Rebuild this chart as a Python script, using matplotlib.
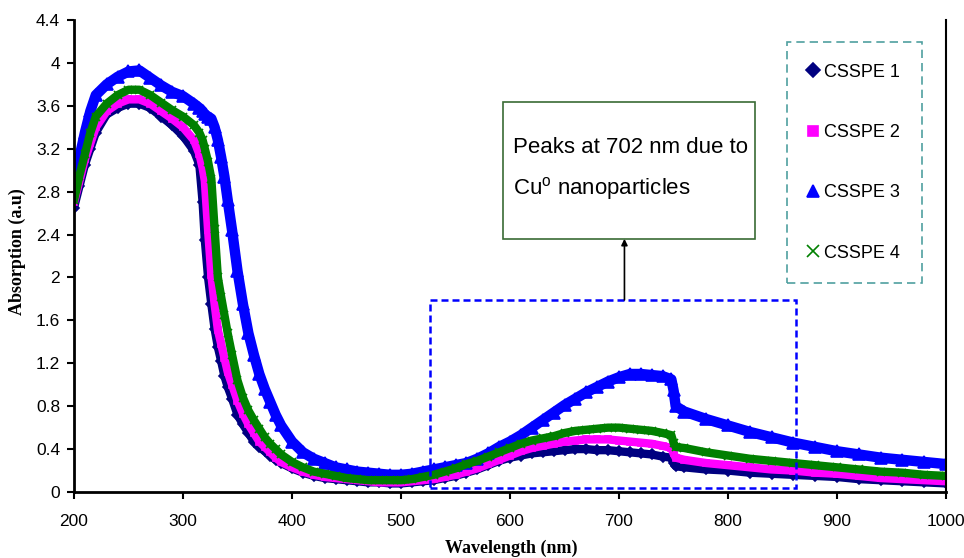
import numpy as np
import matplotlib
matplotlib.use("Agg")
import matplotlib.pyplot as plt
from matplotlib.lines import Line2D
from matplotlib.patches import Rectangle

plt.rcParams['font.family'] = ['Liberation Sans', 'DejaVu Sans']
plt.rcParams['mathtext.fontset'] = 'custom'
plt.rcParams['mathtext.rm'] = 'Liberation Sans'

# wavelength grid (nm)
wavelength = [200, 205, 210, 215, 220, 230, 240, 250, 260, 270, 280, 290, 300, 310, 315, 318,
              320, 323, 326, 329, 332, 335, 338, 341, 345, 350, 355, 360, 365, 370, 375, 380,
              385, 390, 400, 410, 420, 430, 440, 450, 460, 470, 480, 490, 500, 510, 520, 530,
              540, 550, 560, 570, 580, 590, 600, 610, 620, 630, 640, 650, 660, 670, 680, 690,
              700, 710, 720, 730, 740, 748, 750, 752, 760, 780, 800, 820, 840, 860, 880, 900,
              920, 940, 960, 980, 1000]

csspe1 = [2.65, 2.85, 3.05, 3.2, 3.35, 3.52, 3.58, 3.62, 3.62, 3.58, 3.5, 3.42, 3.32, 3.18, 3.05, 2.7,
          2.35, 2.0, 1.75, 1.52, 1.35, 1.22, 1.08, 0.98, 0.87, 0.72, 0.63, 0.55, 0.47, 0.42, 0.38, 0.34,
          0.3, 0.27, 0.22, 0.18, 0.15, 0.13, 0.12, 0.11, 0.1, 0.09, 0.09, 0.08, 0.08, 0.09, 0.1, 0.11,
          0.13, 0.15, 0.18, 0.21, 0.25, 0.29, 0.32, 0.34, 0.36, 0.37, 0.38, 0.39, 0.4, 0.4, 0.39, 0.39,
          0.38, 0.37, 0.36, 0.35, 0.33, 0.32, 0.27, 0.24, 0.23, 0.21, 0.2, 0.18, 0.17, 0.16, 0.15, 0.14,
          0.12, 0.11, 0.1, 0.09, 0.08]

csspe2 = [2.7, 2.9, 3.1, 3.25, 3.4, 3.55, 3.62, 3.66, 3.66, 3.62, 3.55, 3.48, 3.4, 3.28, 3.15, 3.02,
          2.9, 2.44, 2.02, 1.75, 1.51, 1.38, 1.25, 1.12, 1.0, 0.85, 0.73, 0.63, 0.55, 0.47, 0.42, 0.37,
          0.32, 0.28, 0.23, 0.19, 0.16, 0.14, 0.13, 0.12, 0.11, 0.1, 0.09, 0.09, 0.09, 0.1, 0.11, 0.12,
          0.14, 0.16, 0.19, 0.22, 0.26, 0.3, 0.34, 0.38, 0.41, 0.43, 0.45, 0.47, 0.48, 0.49, 0.49, 0.49,
          0.48, 0.47, 0.46, 0.45, 0.43, 0.41, 0.36, 0.32, 0.3, 0.27, 0.25, 0.23, 0.21, 0.2, 0.18, 0.17,
          0.15, 0.13, 0.12, 0.11, 0.1]

csspe3 = [2.88, 3.12, 3.35, 3.55, 3.7, 3.8, 3.87, 3.92, 3.93, 3.86, 3.79, 3.73, 3.69, 3.62, 3.58, 3.55,
          3.52, 3.5, 3.48, 3.4, 3.28, 3.12, 2.94, 2.72, 2.44, 2.06, 1.75, 1.48, 1.28, 1.1, 0.96, 0.84,
          0.72, 0.62, 0.47, 0.37, 0.31, 0.27, 0.23, 0.21, 0.19, 0.18, 0.17, 0.16, 0.16, 0.17, 0.19, 0.21,
          0.23, 0.25, 0.27, 0.31, 0.36, 0.42, 0.47, 0.53, 0.6, 0.67, 0.74, 0.81, 0.87, 0.93, 0.98, 1.03,
          1.07, 1.1, 1.1, 1.09, 1.08, 1.05, 0.95, 0.8, 0.75, 0.68, 0.62, 0.56, 0.51, 0.46, 0.42, 0.38,
          0.35, 0.32, 0.3, 0.28, 0.26]

csspe4 = [2.72, 2.95, 3.15, 3.35, 3.5, 3.62, 3.7, 3.75, 3.75, 3.7, 3.63, 3.56, 3.5, 3.42, 3.35, 3.28,
          3.2, 3.08, 2.92, 2.45, 2.0, 1.82, 1.65, 1.48, 1.28, 1.04, 0.88, 0.76, 0.67, 0.59, 0.51, 0.45,
          0.4, 0.35, 0.28, 0.23, 0.19, 0.17, 0.15, 0.13, 0.12, 0.11, 0.11, 0.11, 0.11, 0.12, 0.14, 0.16,
          0.19, 0.22, 0.26, 0.29, 0.33, 0.37, 0.41, 0.45, 0.48, 0.5, 0.52, 0.55, 0.57, 0.58, 0.59, 0.6,
          0.6, 0.59, 0.58, 0.57, 0.55, 0.53, 0.46, 0.42, 0.41, 0.37, 0.34, 0.31, 0.29, 0.27, 0.25, 0.23,
          0.21, 0.19, 0.18, 0.16, 0.15]

labels = ['CSSPE 1', 'CSSPE 2', 'CSSPE 3', 'CSSPE 4']
x_ticks = [200, 300, 400, 500, 600, 700, 800, 900, 1000]
y_ticks = [0, 0.4, 0.8, 1.2, 1.6, 2, 2.4, 2.8, 3.2, 3.6, 4, 4.4]

fig = plt.figure(figsize=(9.64, 5.58), dpi=100)
ax = fig.add_axes([74 / 964, 1 - 492 / 558, 872 / 964, 472 / 558])

styles = [
    dict(color='#000080', marker='D', ms=5, lw=6),
    dict(color='#ff00ff', marker='s', ms=5, lw=6),
    dict(color='#0000ff', marker='^', ms=8, lw=7.5),
    dict(color='#008000', marker='x', ms=6, lw=6),
]
for ys, st, lab in zip([csspe1, csspe2, csspe3, csspe4], styles, labels):
    ax.plot(wavelength, ys, color=st['color'], lw=st['lw'], solid_joinstyle='round',
            solid_capstyle='round', zorder=2)
    ax.plot(wavelength, ys, ls='none', marker=st['marker'], ms=st['ms'], color=st['color'],
            mew=1.2, zorder=2)

ax.set_xlim(200, 1000)
ax.set_ylim(0, 4.4)
ax.set_xticks(x_ticks)
ax.set_yticks(y_ticks)
ax.set_yticklabels([f'{v:g}' for v in y_ticks])
ax.tick_params(direction='out', length=5, width=1.5, labelsize=12.5)
ax.tick_params(axis='x', pad=11)
ax.tick_params(axis='y', pad=5)
ax.spines['top'].set_visible(False)
ax.spines['left'].set_linewidth(2)
ax.spines['bottom'].set_linewidth(2)
ax.spines['right'].set_linewidth(1.5)

ax.set_xlabel('Wavelength (nm)', fontsize=13, fontweight='bold', family='Liberation Serif')
ax.set_ylabel('Absorption (a.u)', fontsize=13, fontweight='bold', family='Liberation Serif')
ax.xaxis.set_label_coords(0.501, -0.102)
ax.yaxis.set_label_coords(-0.055, 0.51)

# dashed region around the second band
ax.add_patch(Rectangle((527, 0.04), 335, 1.75, fill=False, ec='#0000ff', lw=1.8,
                       ls=(0, (2.8, 1.6)), zorder=5))

# annotation box + arrow
ax.add_patch(Rectangle((593.6, 2.358), 231.2, 1.277, fc='white', ec='#3a6b35', lw=1.2, zorder=6))
ax.text(602.8, 3.215, 'Peaks at 702 nm due to', fontsize=16, va='center', zorder=7)
ax.text(602.8, 2.833, 'Cu$^{\\mathrm{o}}$ nanoparticles', fontsize=16, va='center', zorder=7)
ax.annotate('', xy=(705, 2.36), xytext=(705, 1.79),
            arrowprops=dict(arrowstyle='-|>', color='black', lw=1.2, mutation_scale=9,
                            shrinkA=0, shrinkB=0), zorder=7)

handles = [Line2D([], [], ls='none', marker=st['marker'], ms=st['ms'] + 2 if st['marker'] != '^' else 8,
                  color=st['color'], mew=1.2) for st in styles]
leg = ax.legend(handles, labels, loc='upper right', bbox_to_anchor=(922 / 964, 1 - 42 / 558),
                bbox_transform=fig.transFigure, fontsize=13, labelspacing=2.4,
                handlelength=0.5, handletextpad=0.4, borderpad=1.2, borderaxespad=0,
                fancybox=False, framealpha=1)
frame = leg.get_frame()
frame.set_edgecolor('#4f9f9f')
frame.set_linewidth(1.2)
frame.set_linestyle((0, (5, 3)))

fig.savefig('out.png', dpi=100)
